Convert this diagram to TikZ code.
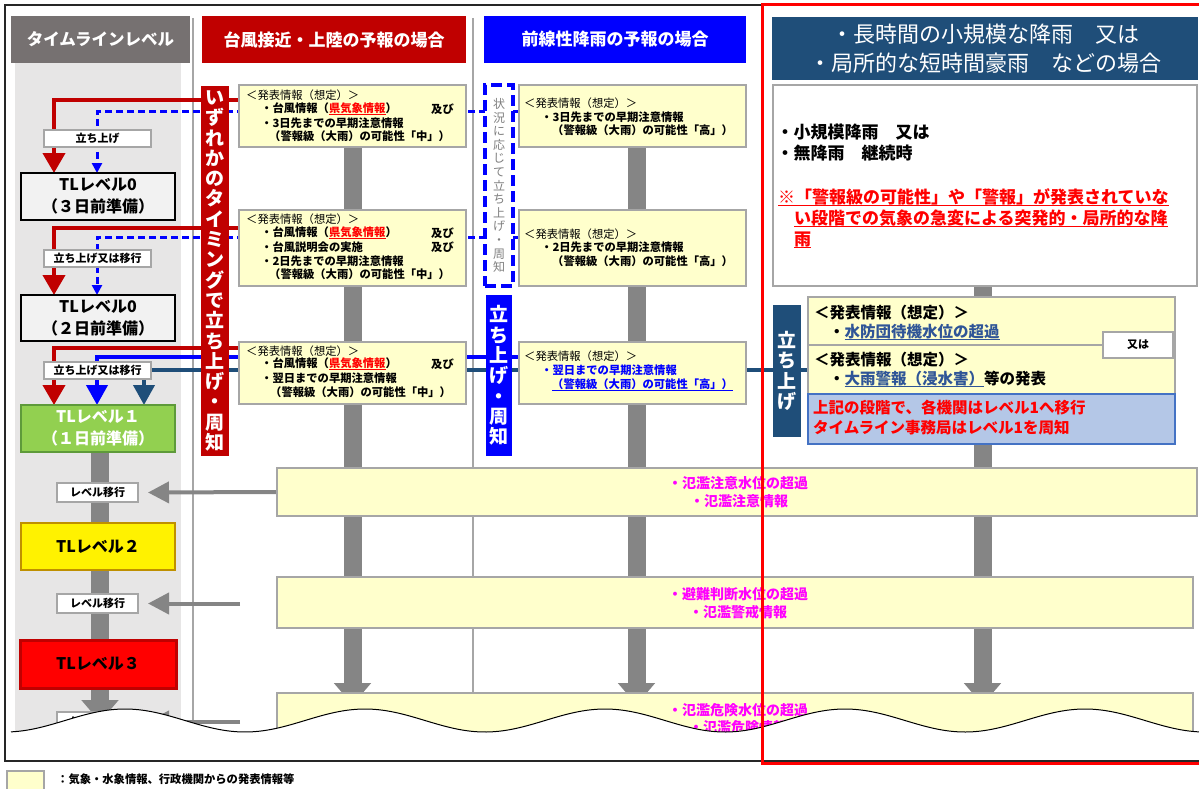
\documentclass[tikz,border=0pt]{standalone}
\usepackage{fontspec}
\setmainfont{Noto Sans CJK JP}
\usetikzlibrary{arrows.meta,calc}
\newcommand\jfs[2]{\fontsize{#1}{#2}\selectfont}
\newcommand\ulx[1]{\setbox0\hbox{#1}\rlap{\rule[-2.6pt]{\wd0}{0.9pt}}\box0}
\definecolor{hdgray}{HTML}{767171}
\definecolor{hdred}{HTML}{C00000}
\definecolor{hdblue}{HTML}{0000FF}
\definecolor{hdnavy}{HTML}{1F4E79}
\definecolor{infoyel}{HTML}{FFFFCC}
\definecolor{boxline}{HTML}{A6A6A6}
\definecolor{flowgray}{HTML}{858585}
\definecolor{colbg}{HTML}{E7E6E6}
\definecolor{lvgreen}{HTML}{92D050}
\definecolor{lvgreenb}{HTML}{5E9A3A}
\definecolor{lvyellowb}{HTML}{BF9000}
\definecolor{linkblue}{HTML}{2F5597}
\definecolor{noteblue}{HTML}{B4C7E7}
\definecolor{notebluel}{HTML}{4472C4}
\definecolor{magtext}{HTML}{FF00FF}
\definecolor{lv0fill}{HTML}{F2F2F2}
\definecolor{vgray}{HTML}{7F7F7F}
\pgfdeclarelayer{bottom}
\pgfdeclarelayer{lines}
\pgfdeclarelayer{top}
\pgfsetlayers{bottom,lines,main,top}
\newcommand\bx[7]{\node[#2, anchor=north west, minimum width={(#5-#3)*1pt}, minimum height={(#6-#4)*1pt}] (#1) at (#3,#4) {#7};}
\newcommand\tline[5][tx]{\node[#1] (#2) at (#3,#4) {#5};}
\tikzset{
  hdr/.style={rectangle, inner sep=0pt, outer sep=0pt, text=white, font=\jfs{17}{20}\bfseries},
  infobox/.style={rectangle, draw=boxline, fill=infoyel, line width=1.2pt, inner sep=0pt, outer sep=0pt},
  lblbox/.style={rectangle, draw=boxline, fill=white, line width=1.2pt, inner sep=0pt, outer sep=0pt, font=\jfs{11}{13}\bfseries},
  tx/.style={anchor=west, inner sep=0pt, font=\jfs{11.3}{13}},
  txb/.style={anchor=west, inner sep=0pt, font=\jfs{11.3}{13}\bfseries},
  txl/.style={anchor=west, inner sep=0pt, font=\jfs{15.5}{18}\bfseries},
  txw/.style={anchor=west, inner sep=0pt, font=\jfs{17}{20}\bfseries},
  magt/.style={inner sep=0pt, text=magtext, font=\jfs{14}{16}\bfseries},
  lvlbox/.style={rectangle, inner sep=0pt, outer sep=0pt, align=center, font=\jfs{16}{22}\bfseries},
  vbar/.style={rectangle, inner sep=0pt, outer sep=0pt, text=white, align=center, font=\jfs{19}{20.3}\bfseries},
  flowbar/.style={draw=flowgray, line width=18pt, -{Triangle[width=36pt,length=22pt]}},
  redln/.style={draw=hdred, line width=4pt, -{Triangle[width=22pt,length=20pt]}},
  bdash/.style={draw=hdblue, line width=3pt, dash pattern=on 7pt off 4pt, -{Triangle[width=10pt,length=10pt]}},
  bsolid/.style={draw=hdblue, line width=4pt, -{Triangle[width=21pt,length=20pt]}},
  navyln/.style={draw=hdnavy, line width=4pt, -{Triangle[width=21pt,length=20pt]}},
  garr/.style={draw=flowgray, line width=4pt, -{Triangle[width=21pt,length=21pt]}},
  sepln/.style={draw=boxline, line width=1.2pt}
}
\begin{document}
\begin{tikzpicture}[x=1pt,y=-1pt]
\useasboundingbox (0,0) rectangle (1199,789);
\begin{pgfonlayer}{bottom}
\fill[colbg] (15,63) rectangle (181,745);
\draw[sepln] (193,18) -- (193,745);
\draw[sepln] (473,18) -- (473,745);
\end{pgfonlayer}
% headers
\bx{h1}{hdr, fill=hdgray, font=\jfs{16.5}{20}\bfseries}{11}{16}{190}{63}{タイムラインレベル}
\bx{h2}{hdr, fill=hdred}{202}{16}{466}{63}{台風接近・上陸の予報の場合}
\bx{h3}{hdr, fill=hdblue}{484}{16}{746}{63}{前線性降雨の予報の場合}
\bx{h4}{hdr, fill=hdnavy, align=center, font=\jfs{22}{29}}{772}{17}{1198}{80}{・長時間の小規模な降雨　又は\\・局所的な短時間豪雨　などの場合}
% vertical bars
\bx{rbar}{vbar, fill=hdred}{201}{86}{229}{456}{い\\ず\\れ\\か\\の\\タ\\イ\\ミ\\ン\\グ\\で\\立\\ち\\上\\げ\\・\\周\\知}
\bx{bbar}{vbar, fill=hdblue}{486}{295}{512}{456}{立\\ち\\上\\げ\\・\\周\\知}
\bx{nbar}{vbar, fill=hdnavy}{773}{305}{801}{437}{立\\ち\\上\\げ}
\bx{dbox}{vbar, fill=white, draw=hdblue, line width=3.3pt, dash pattern=on 11pt off 5pt, text=vgray, font=\jfs{12}{13.6}}{485}{85}{513}{286}{状\\況\\に\\応\\じ\\て\\立\\ち\\上\\げ\\・\\周\\知}
% column 2 boxes
\bx{b1}{infobox}{239}{85}{466}{147}{}
\tline{t11}{246}{95}{＜発表情報（想定）＞}
\tline[txb]{t12}{261}{109}{・台風情報（\textcolor{red}{\ulx{県気象情報}}）}
\tline[txb]{t12b}{431}{109}{及び}
\tline[txb]{t13}{261}{123}{・3日先までの早期注意情報}
\tline[txb]{t14}{269}{136}{（警報級（大雨）の可能性「中」）}
\bx{b2}{infobox}{239}{210}{466}{286}{}
\tline{t21}{246}{219}{＜発表情報（想定）＞}
\tline[txb]{t22}{261}{233}{・台風情報（\textcolor{red}{\ulx{県気象情報}}）}
\tline[txb]{t22b}{431}{233}{及び}
\tline[txb]{t23}{261}{247}{・台風説明会の実施}
\tline[txb]{t23b}{431}{247}{及び}
\tline[txb]{t24}{261}{261}{・2日先までの早期注意情報}
\tline[txb]{t25}{269}{274}{（警報級（大雨）の可能性「中」）}
\bx{b3}{infobox}{239}{342}{466}{404}{}
\tline{t31}{246}{351}{＜発表情報（想定）＞}
\tline[txb]{t32}{261}{364}{・台風情報（\textcolor{red}{\ulx{県気象情報}}）}
\tline[txb]{t32b}{431}{364}{及び}
\tline[txb]{t33}{261}{378}{・翌日までの早期注意情報}
\tline[txb]{t34}{270}{392}{（警報級（大雨）の可能性「中」）}
% column 3 boxes
\bx{c1}{infobox}{519}{85}{746}{147}{}
\tline{u11}{524}{103}{＜発表情報（想定）＞}
\tline[txb]{u12}{541}{117}{・3日先までの早期注意情報}
\tline[txb]{u13}{552}{130}{（警報級（大雨）の可能性「高」）}
\bx{c2}{infobox}{519}{210}{746}{286}{}
\tline{u21}{524}{234}{＜発表情報（想定）＞}
\tline[txb]{u22}{541}{247}{・2日先までの早期注意情報}
\tline[txb]{u23}{552}{261}{（警報級（大雨）の可能性「高」）}
\bx{c3}{infobox}{519}{342}{746}{404}{}
\tline{u31}{524}{356}{＜発表情報（想定）＞}
\tline[txb, text=hdblue]{u32}{541}{370}{・翌日までの早期注意情報}
\tline[txb, text=hdblue]{u33}{552}{385}{\ulx{（警報級（大雨）の可能性「高」）}}
% column 4
\bx{w4}{infobox, fill=white}{773}{85}{1197}{286}{}
\tline[txw]{v1}{776.5}{132}{・小規模降雨　又は}
\tline[txw]{v2}{776.5}{153}{・無降雨　継続時}
\tline[txw, text=red]{v3}{778}{197}{\ulx{※「警報級の可能性」や「警報」が発表されていな}}
\tline[txw, text=red]{v4}{794}{218}{\ulx{い段階での気象の急変による突発的・局所的な降}}
\tline[txw, text=red]{v5}{794}{240}{\ulx{雨}}
\bx{d1}{infobox}{808}{297}{1175}{345}{}
\bx{d2}{infobox}{808}{345}{1175}{394}{}
\bx{d3}{infobox, fill=noteblue, draw=notebluel}{808}{394}{1175}{444}{}
\tline[txl]{x11}{814}{313}{＜発表情報（想定）＞}
\tline[txl]{x12}{829}{332}{・\textcolor{linkblue}{\ulx{水防団待機水位の超過}}}
\tline[txl]{x21}{814}{360}{＜発表情報（想定）＞}
\tline[txl]{x22}{829}{379}{・\textcolor{linkblue}{\ulx{大雨警報（浸水害）}}等の発表}
\tline[txl, text=red]{x31}{813}{408}{上記の段階で、各機関はレベル1へ移行}
\tline[txl, text=red]{x32}{813}{428}{タイムライン事務局はレベル1を周知}
\bx{or1}{lblbox}{1103}{332}{1173}{358}{又は}
% wide boxes
\bx{bA}{infobox}{277}{468}{1197}{516}{}
\node[magt] (m1) at (738,483) {・氾濫注意水位の超過};
\node[magt] (m2) at (739,501) {・氾濫注意情報};
\bx{bB}{infobox}{277}{577}{1193}{628}{}
\node[magt] (m3) at (738,594) {・避難判断水位の超過};
\node[magt] (m4) at (738,612) {・氾濫警戒情報};
\bx{bC}{infobox}{277}{693}{1193}{760}{}
\node[magt] (m5) at (738,710) {・氾濫危険水位の超過};
\node[magt] (m6) at (738,727) {・氾濫危険情報};
% left column boxes
\bx{lb1}{lblbox}{44}{130}{151}{147}{立ち上げ}
\bx{lb2}{lblbox}{44}{250}{151}{267}{立ち上げ又は移行}
\bx{lb3}{lblbox}{44}{362}{151}{379}{立ち上げ又は移行}
\bx{lbA}{lblbox}{57}{483}{138}{502}{レベル移行}
\bx{lbB}{lblbox}{57}{594}{138}{613}{レベル移行}
\bx{lbC}{lblbox}{57}{712}{138}{731}{レベル移行}
\bx{lv0a}{lvlbox, fill=lv0fill, draw=black, line width=2pt}{21}{173}{175}{220}{TLレベル0\\（３日前準備）}
\bx{lv0b}{lvlbox, fill=lv0fill, draw=black, line width=2pt}{21}{295}{175}{341}{TLレベル0\\（２日前準備）}
\bx{lv1}{lvlbox, fill=lvgreen, draw=lvgreenb, line width=2.5pt, text=white}{21}{405}{175}{452}{TLレベル１\\（１日前準備）}
\bx{lv2}{lvlbox, fill=yellow, draw=lvyellowb, line width=2.5pt}{21}{523}{175}{570}{TLレベル２}
\bx{lv3}{lvlbox, fill=red, draw=hdred, line width=3pt}{20}{640}{176}{688}{TLレベル３}
% connectors and flow bars (behind the boxes)
\begin{pgfonlayer}{lines}
\draw[flowbar] ($(lv1.south)+(2,0)$) -- ($(lv1.south)+(2,270)$);
\draw[flowbar] (b1.south) -- ($(b1.south |- bC.north)+(0,12)$);
\draw[flowbar] ($(c1.south)+(4,0)$) -- ($(c1.south |- bC.north)+(4,12)$);
\draw[flowbar] ($(w4.south)+(-2.5,0)$) -- ($(w4.south |- bC.north)+(-2.5,12)$);
\draw[redln] ($(b1.north west)+(0,15)$) -| ($(lv0a.north west)+(33,0)$);
\draw[redln] ($(b2.north west)+(0,18)$) -| ($(lv0b.north west)+(33,0)$);
\draw[redln] ($(b3.north west)+(0,6)$) -| ($(lv1.north west)+(33,0)$);
\draw[bdash] ($(c1.north west)+(0,27)$) -| ($(lv0a.north west)+(76,0)$);
\draw[bdash] ($(c2.north west)+(0,27)$) -| ($(lv0b.north west)+(76,0)$);
\draw[bsolid] ($(c3.north west)+(0,15)$) -| ($(lv1.north west)+(76,0)$);
\draw[navyln] ($(d2.north west)+(0,25)$) -| ($(lv1.north west)+(123,0)$);
\coordinate (gB) at (240,603.5);
\coordinate (gC) at (240,721.5);
\draw[garr] (bA.west) -- ($(lbA.east)+(10,0)$);
\draw[garr] (gB) -- ($(lbB.east)+(10,0)$);
\draw[garr] (gC) -- ($(lbC.east)+(10,0)$);
\end{pgfonlayer}
% wave cut and frames
\begin{pgfonlayer}{top}
\fill[white] plot[domain=11:1205,samples=300] (\x,{720.5-11.5*cos(1.5*(\x-125))}) -- (1205,760) -- (11,760) -- cycle;
\draw[black, line width=1pt] plot[domain=11:1205,samples=300] (\x,{720.5-11.5*cos(1.5*(\x-125))});
\draw[black!85, line width=2pt] (5,5) rectangle (1212,761);
\draw[red, line width=3pt] (762,5) rectangle (1212,763);
\end{pgfonlayer}
% legend
\bx{leg}{infobox}{7}{771}{44}{800}{}
\tline[txb]{legt}{57}{779}{：気象・水象情報、行政機関からの発表情報等}
\end{tikzpicture}
\end{document}
